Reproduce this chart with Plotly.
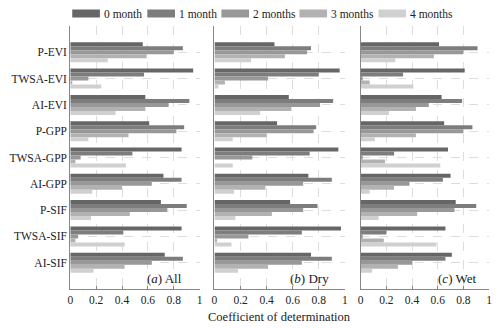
# Coefficient of determination by lag, three panels (All / Dry / Wet)

import plotly.graph_objects as go
from plotly.subplots import make_subplots

categories = ["P-EVI", "TWSA-EVI", "AI-EVI", "P-GPP", "TWSA-GPP",
              "AI-GPP", "P-SIF", "TWSA-SIF", "AI-SIF"]
lags = ["0 month", "1 month", "2 months", "3 months", "4 months"]
colors = ["#666666", "#7d7d7d", "#989898", "#b2b2b2", "#d0d0d0"]

# rows = lag (0..4 months), columns = categories
all_r2 = [
    [0.56, 0.95, 0.58, 0.61, 0.86, 0.72, 0.70, 0.86, 0.73],
    [0.87, 0.57, 0.92, 0.88, 0.48, 0.86, 0.90, 0.41, 0.87],
    [0.80, 0.14, 0.76, 0.82, 0.08, 0.63, 0.75, 0.06, 0.63],
    [0.59, 0.01, 0.58, 0.45, 0.04, 0.40, 0.46, 0.04, 0.42],
    [0.29, 0.24, 0.35, 0.14, 0.43, 0.17, 0.16, 0.42, 0.18],
]
dry_r2 = [
    [0.46, 0.96, 0.57, 0.48, 0.95, 0.72, 0.58, 0.97, 0.74],
    [0.74, 0.80, 0.91, 0.78, 0.73, 0.90, 0.79, 0.67, 0.90],
    [0.71, 0.41, 0.81, 0.76, 0.29, 0.68, 0.68, 0.26, 0.67],
    [0.54, 0.08, 0.59, 0.40, 0.00, 0.39, 0.44, 0.02, 0.41],
    [0.28, 0.03, 0.35, 0.14, 0.14, 0.15, 0.16, 0.13, 0.18],
]
wet_r2 = [
    [0.61, 0.81, 0.63, 0.65, 0.68, 0.70, 0.74, 0.66, 0.71],
    [0.91, 0.33, 0.79, 0.87, 0.26, 0.64, 0.90, 0.20, 0.66],
    [0.80, 0.01, 0.53, 0.80, 0.01, 0.38, 0.73, 0.01, 0.40],
    [0.57, 0.07, 0.43, 0.43, 0.19, 0.26, 0.44, 0.18, 0.29],
    [0.27, 0.41, 0.22, 0.11, 0.62, 0.07, 0.14, 0.59, 0.09],
]
panels = [("(<i>a</i>) All", all_r2), ("(<i>b</i>) Dry", dry_r2), ("(<i>c</i>) Wet", wet_r2)]

x_ticks = [0, 0.2, 0.4, 0.6, 0.8, 1]
x_ticktext = ["0", "0.2", "0.4", "0.6", "0.8", "1"]
ypos = list(range(1, len(categories) + 1))

FONT = "Liberation Serif"

# page body has an 8px margin, so the figure is 8px smaller and offset
W, H, OFF = 492, 320, 8


def fx(px):
    return (px - OFF) / W


def fy(py):
    return 1 - (py - OFF) / H


fig = make_subplots(rows=1, cols=3, shared_yaxes=False)

for p, (label, vals) in enumerate(panels):
    for i, lag in enumerate(lags):
        fig.add_trace(
            go.Bar(
                x=vals[i],
                y=ypos,
                orientation="h",
                name=lag,
                marker=dict(color=colors[i], line=dict(width=0)),
                showlegend=False,
            ),
            row=1,
            col=p + 1,
        )

domains = [(fx(68), fx(199)), (fx(214), fx(346)), (fx(362), fx(492))]
label_x = [0.88, 0.895, 0.915]

for p in range(3):
    ax = "" if p == 0 else str(p + 1)
    fig.layout["xaxis" + ax].update(
        domain=domains[p],
        range=[0, 1.0],
        tickvals=x_ticks,
        ticktext=x_ticktext,
        ticks="inside",
        ticklen=3,
        tickcolor="#888888",
        showline=True,
        linecolor="#888888",
        linewidth=1,
        showgrid=True,
        gridcolor="#dddddd",
        griddash="dash",
        gridwidth=1,
        zeroline=False,
        tickfont=dict(family=FONT, size=11.5, color="#222222"),
    )
    fig.layout["yaxis" + ax].update(
        domain=[fy(289), fy(26)],
        range=[10, 0],
        tickvals=[0] + ypos,
        ticktext=[""] + categories if p == 0 else [""] * 10,
        ticks="",
        showline=True,
        linecolor="#888888",
        linewidth=1,
        showgrid=True,
        gridcolor="#dddddd",
        griddash="dash",
        zeroline=False,
        tickfont=dict(family=FONT, size=11.5, color="#222222"),
    )
    fig.add_annotation(
        x=label_x[p], y=9.6, xref="x" + ax, yref="y" + ax,
        text=panels[p][0], showarrow=False, xanchor="right", yanchor="middle",
        font=dict(family=FONT, size=13, color="#222222"),
    )

# 图例 (custom, wide swatches)
legend_x = [70, 146, 221, 300, 380]
for i, lag in enumerate(lags):
    x0 = legend_x[i]
    fig.add_shape(
        type="rect", xref="paper", yref="paper",
        x0=fx(x0), x1=fx(x0 + 28), y0=fy(17.5), y1=fy(9.5),
        fillcolor=colors[i], line=dict(width=0),
    )
    fig.add_annotation(
        x=fx(x0 + 30), y=fy(14), xref="paper", yref="paper",
        text=lag, showarrow=False, xanchor="left", yanchor="middle",
        font=dict(family=FONT, size=11.5, color="#222222"),
    )

fig.add_annotation(
    x=fx(280), y=fy(317), xref="paper", yref="paper",
    text="Coefficient of determination", showarrow=False,
    xanchor="center", yanchor="middle",
    font=dict(family=FONT, size=12.5, color="#222222"),
)

fig.update_layout(
    width=W,
    height=H,
    margin=dict(l=0, r=0, t=0, b=0),
    barmode="group",
    bargap=0.24,
    bargroupgap=0,
    plot_bgcolor="white",
    paper_bgcolor="white",
    showlegend=False,
)

fig.write_html("out.html")
